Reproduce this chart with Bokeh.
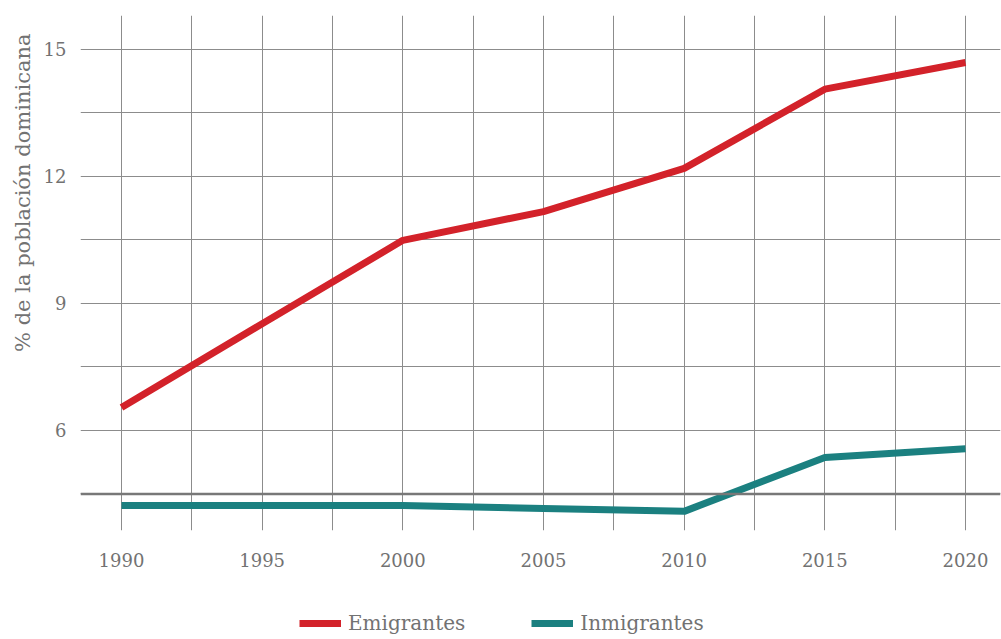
from bokeh.plotting import figure
from bokeh.layouts import column
from bokeh.models import Range1d, FixedTicker, Span, Legend, LegendItem, Title
from bokeh.embed import file_html
from bokeh.resources import INLINE

years = [1990, 1995, 2000, 2005, 2010, 2015, 2020]
emigrantes = [6.54, 8.52, 10.49, 11.17, 12.19, 14.06, 14.69]
inmigrantes = [4.23, 4.23, 4.23, 4.16, 4.09, 5.36, 5.57]
y_ticks = [6, 9, 12, 15]
y_label = "% de la población dominicana"
series_names = ["Emigrantes", "Inmigrantes"]
series_colors = ["#d3222a", "#1b8080"]

FONT = "DejaVu Serif"
TXT = "#727272"
GRID = "#8c8c8c"

p = figure(width=1001, height=585, output_backend="svg", toolbar_location=None,
           x_range=Range1d(1988.543, 2021.244), y_range=Range1d(3.638, 15.80),
           min_border_left=80, min_border_right=1, min_border_top=15, min_border_bottom=55)
p.outline_line_color = None
p.background_fill_color = "white"

# axes
p.xaxis.ticker = FixedTicker(ticks=years)
p.yaxis.ticker = FixedTicker(ticks=y_ticks)
for ax in (p.xaxis[0], p.yaxis[0]):
    ax.axis_line_color = None
    ax.major_tick_line_color = None
    ax.minor_tick_line_color = None
    ax.major_label_text_font = FONT
    ax.major_label_text_color = TXT
    ax.major_label_text_font_size = "18px"
p.xaxis.major_label_standoff = 16
p.yaxis.major_label_standoff = 8

# y-axis title, placed near the top as in the reference
p.add_layout(Title(text=y_label, align="right", offset=18, standoff=12,
                   text_font=FONT, text_font_style="normal", text_color=TXT,
                   text_font_size="21px"), "left")

# grids
p.xgrid.ticker = FixedTicker(ticks=[years[0] + 2.5 * i for i in range(13)])
p.ygrid.ticker = FixedTicker(ticks=[4.5 + 1.5 * i for i in range(8)])
for g in (p.xgrid[0], p.ygrid[0]):
    g.grid_line_color = GRID
    g.grid_line_width = 1

p.add_layout(Span(location=4.5, dimension="width", line_color="#787878", line_width=2.5))

p.line(years, emigrantes, line_color=series_colors[0], line_width=7)
p.line(years, inmigrantes, line_color=series_colors[1], line_width=7)

# legend strip (series drawn off-view so only the legend shows)
p2 = figure(width=1001, height=54, output_backend="svg", toolbar_location=None,
            x_axis_location=None, y_axis_location=None,
            x_range=Range1d(1988.543, 2021.244), y_range=Range1d(100, 101),
            min_border_left=80, min_border_right=1, min_border_top=0, min_border_bottom=0)
p2.outline_line_color = None
p2.xgrid.visible = False
p2.ygrid.visible = False
items = []
for name, col, vals in zip(series_names, series_colors, [emigrantes, inmigrantes]):
    r = p2.line(years, vals, line_color=col, line_width=7)
    items.append(LegendItem(label=name, renderers=[r]))
legend = Legend(items=items, orientation="horizontal", location=(219, 4),
                glyph_width=42, glyph_height=20, label_standoff=7, spacing=66,
                padding=0, margin=0, border_line_color=None, background_fill_alpha=0,
                label_text_font=FONT, label_text_color=TXT, label_text_font_size="20px")
p2.add_layout(legend, "center")

open("out.html", "w").write(file_html(column(p, p2, spacing=0), INLINE))
